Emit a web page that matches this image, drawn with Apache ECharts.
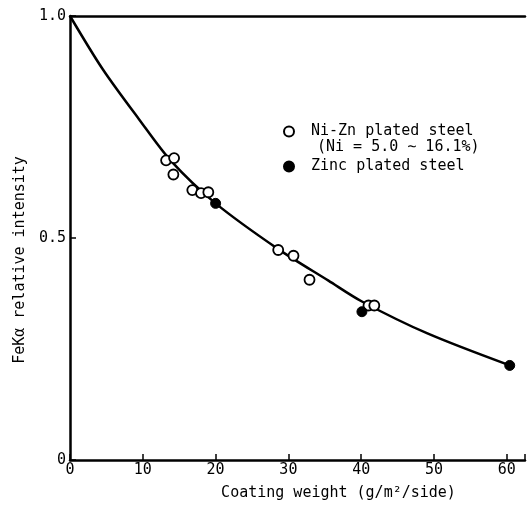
<!DOCTYPE html>
<html>
<head>
<meta charset="utf-8">
<script src="https://cdn.jsdelivr.net/npm/echarts@6/dist/echarts.min.js"></script>
<style>html,body{margin:0;padding:0;background:#fff;}#c{width:528px;height:506px;}</style>
</head>
<body>
<div id="c"></div>
<script>
// Data
const niZnX = [13.2, 14.3, 14.2, 16.8, 18.0, 19.0, 28.6, 30.7, 32.9, 41.0, 41.8];
const niZnY = [0.675, 0.680, 0.643, 0.608, 0.601, 0.603, 0.473, 0.460, 0.406, 0.348, 0.348];
const zincX = [20.0, 40.1, 60.4];
const zincY = [0.578, 0.334, 0.213];
const curveX = [0, 4.5, 9.5, 13.9, 20, 28.6, 35.5, 40.1, 49.1, 60.4];
const curveY = [1.0, 0.88, 0.767, 0.673, 0.578, 0.475, 0.404, 0.357, 0.285, 0.213];
const xTicks = [0, 10, 20, 30, 40, 50, 60];
const yTickLabels = {0: '0', 0.5: '0.5', 1: '1.0'};
const seriesNames = ['Ni-Zn plated steel', 'Zinc plated steel'];
const legendNote = '(Ni = 5.0 \u223C 16.1%)';

const FONT = '"DejaVu Sans Mono", "Liberation Mono", monospace';
const zip = (a, b) => a.map((v, i) => [v, b[i]]);

const chart = echarts.init(document.getElementById('c'), null, {renderer: 'canvas'});
chart.setOption({
  animation: false,
  backgroundColor: '#fff',
  grid: {left: 70, right: 0, top: 16, bottom: 44},
  legend: {
    orient: 'vertical', left: 278, top: 119, itemGap: 20,
    itemWidth: 10, itemHeight: 10,
    data: [{name: seriesNames[0], icon: 'circle'}, {name: seriesNames[1], icon: 'circle'}],
    textStyle: {fontFamily: FONT, fontSize: 15, color: '#000', padding: [0, 0, 0, 12]}
  },
  graphic: [{
    type: 'text', left: 317, top: 140,
    style: {text: legendNote, font: '15px ' + FONT, fill: '#000'}
  }],
  xAxis: [{
    type: 'value', min: 0, max: 62.5, interval: 10,
    name: 'Coating weight (g/m\u00B2/side)', nameLocation: 'middle', nameGap: 26,
    nameTextStyle: {fontFamily: FONT, fontSize: 15, color: '#000', padding: [0, 0, 0, 82]},
    axisLine: {show: true, lineStyle: {color: '#000', width: 2.5}},
    axisTick: {show: true, inside: true, length: 6, lineStyle: {color: '#000', width: 1.5}},
    axisLabel: {
      fontFamily: FONT, fontSize: 15, color: '#000', margin: 3,
      formatter: v => xTicks.includes(v) ? String(v) : ''
    },
    splitLine: {show: false}
  }, {
    type: 'value', position: 'top', min: 0, max: 62.5,
    axisLine: {show: true, lineStyle: {color: '#000', width: 2.5}},
    axisTick: {show: false}, axisLabel: {show: false}, splitLine: {show: false}
  }],
  yAxis: {
    type: 'value', min: 0, max: 1, interval: 0.5,
    name: 'FeK\u03B1 relative intensity', nameLocation: 'middle', nameGap: 42, nameRotate: 90,
    nameTextStyle: {fontFamily: FONT, fontSize: 15, color: '#000', padding: [0, 44, 0, 0]},
    axisLine: {show: true, lineStyle: {color: '#000', width: 2.5}},
    axisTick: {show: true, inside: true, length: 6, lineStyle: {color: '#000', width: 1.5}},
    axisLabel: {
      fontFamily: FONT, fontSize: 15, color: '#000', margin: 4,
      formatter: v => yTickLabels[v] !== undefined ? yTickLabels[v] : ''
    },
    splitLine: {show: false}
  },
  series: [{
    name: 'curve', type: 'line', data: zip(curveX, curveY), smooth: 0.3,
    showSymbol: false, lineStyle: {color: '#000', width: 2.5}, z: 1, silent: true
  }, {
    name: seriesNames[0], type: 'scatter', data: zip(niZnX, niZnY),
    symbol: 'circle', symbolSize: 10,
    itemStyle: {color: '#fff', borderColor: '#000', borderWidth: 1.8, opacity: 1}, z: 3
  }, {
    name: seriesNames[1], type: 'scatter', data: zip(zincX, zincY),
    symbol: 'circle', symbolSize: 10,
    itemStyle: {color: '#000', borderColor: '#000', borderWidth: 1, opacity: 1}, z: 4
  }]
});
</script>
</body>
</html>
